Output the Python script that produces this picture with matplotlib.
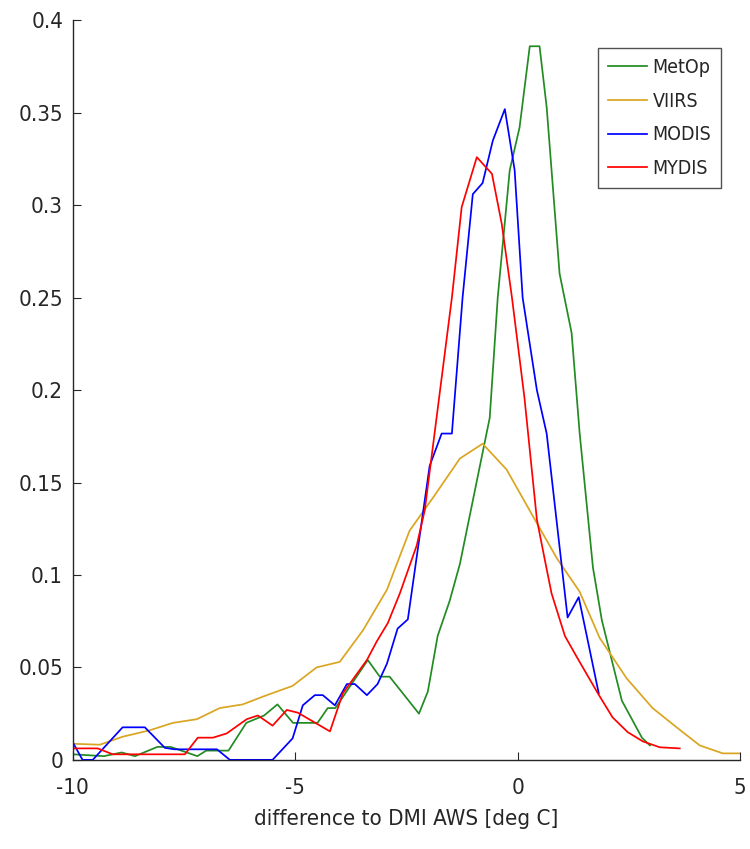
import matplotlib.pyplot as plt

# curves (x in deg C, y = relative frequency)
metop_x = [-10.0, -9.3, -8.9, -8.6, -8.1, -7.8, -7.2, -7.0, -6.5, -6.1, -5.7, -5.4,
           -5.05, -4.5, -4.27, -4.1, -3.37, -3.1, -2.88, -2.22, -2.02, -1.8, -1.53,
           -1.3, -0.63, -0.45, -0.18, 0.04, 0.27, 0.49, 0.65, 0.94, 1.21, 1.39, 1.69,
           1.89, 2.34, 2.79, 2.97]
metop_y = [0.003, 0.002, 0.004, 0.002, 0.007, 0.007, 0.002, 0.005, 0.005, 0.020, 0.024,
           0.030, 0.020, 0.020, 0.028, 0.028, 0.054, 0.045, 0.045, 0.025, 0.037, 0.067,
           0.086, 0.106, 0.185, 0.250, 0.319, 0.342, 0.386, 0.386, 0.353, 0.263, 0.231,
           0.177, 0.104, 0.0755, 0.032, 0.012, 0.0078]

viirs_x = [-10.0, -9.39, -8.88, -8.27, -7.75, -7.21, -6.70, -6.18, -5.64, -5.06, -4.52,
           -4.00, -3.48, -2.94, -2.43, -1.87, -1.30, -0.79, -0.25, 0.43, 0.88, 1.39, 1.84,
           2.45, 3.03, 3.57, 4.09, 4.61, 5.0]
viirs_y = [0.0087, 0.0082, 0.0125, 0.016, 0.020, 0.022, 0.028, 0.030, 0.035, 0.040, 0.050,
           0.053, 0.070, 0.092, 0.124, 0.143, 0.163, 0.171, 0.157, 0.128, 0.109, 0.091,
           0.066, 0.044, 0.028, 0.0176, 0.0078, 0.0035, 0.0035]

modis_x = [-10.0, -9.78, -9.55, -8.88, -8.38, -7.93, -7.71, -6.76, -6.47, -5.51, -5.06,
           -4.83, -4.56, -4.38, -4.11, -3.84, -3.66, -3.39, -3.15, -2.94, -2.70, -2.47,
           -1.98, -1.71, -1.48, -1.24, -1.01, -0.79, -0.56, -0.29, -0.07, 0.11, 0.43,
           0.65, 1.12, 1.37, 1.82]
modis_y = [0.0095, 0.0, 0.0, 0.0176, 0.0176, 0.0065, 0.0057, 0.0057, 0.0, 0.0, 0.0116,
           0.0295, 0.035, 0.035, 0.0295, 0.041, 0.041, 0.035, 0.041, 0.052, 0.071, 0.076,
           0.159, 0.1765, 0.1765, 0.250, 0.306, 0.312, 0.335, 0.352, 0.319, 0.250, 0.200,
           0.1765, 0.077, 0.088, 0.036]

mydis_x = [-10.0, -9.44, -9.10, -7.48, -7.19, -6.85, -6.54, -6.09, -5.84, -5.51, -5.19,
           -4.94, -4.22, -3.93, -3.39, -3.17, -2.92, -2.65, -2.27, -2.09, -1.48, -1.26,
           -0.92, -0.58, -0.36, -0.13, 0.15, 0.43, 0.61, 0.76, 1.06, 1.33, 1.80, 2.13,
           2.47, 2.81, 3.19, 3.64]
mydis_y = [0.0062, 0.0062, 0.003, 0.003, 0.012, 0.012, 0.0143, 0.022, 0.024, 0.0185,
           0.027, 0.0255, 0.0154, 0.036, 0.054, 0.064, 0.074, 0.090, 0.116, 0.135, 0.250,
           0.299, 0.326, 0.317, 0.290, 0.250, 0.196, 0.130, 0.108, 0.090, 0.067, 0.0555,
           0.036, 0.023, 0.015, 0.010, 0.0068, 0.0062]

x_ticks = [-10, -5, 0, 5]
y_ticks = [0, 0.05, 0.1, 0.15, 0.2, 0.25, 0.3, 0.35, 0.4]
y_labels = ['0', '0.05', '0.1', '0.15', '0.2', '0.25', '0.3', '0.35', '0.4']

plt.rcParams['font.family'] = ['DejaVu Sans']
plt.rcParams['font.stretch'] = 'condensed'
txt = '#262626'

fig = plt.figure(figsize=(7.5, 8.49), dpi=100)
ax = fig.add_axes([0.097, 0.105, 0.89, 0.871])

ax.plot(metop_x, metop_y, color='#228B22', lw=1.25, label='MetOp')
ax.plot(viirs_x, viirs_y, color='#DAA520', lw=1.25, label='VIIRS')
ax.plot(modis_x, modis_y, color='#0000FF', lw=1.25, label='MODIS')
ax.plot(mydis_x, mydis_y, color='#FF0000', lw=1.25, label='MYDIS')

ax.set_xlim(-10, 5)
ax.set_ylim(0, 0.4)
ax.set_xticks(x_ticks)
ax.set_xticklabels([str(v) for v in x_ticks])
ax.set_yticks(y_ticks)
ax.set_yticklabels(y_labels)
ax.spines['top'].set_visible(False)
ax.spines['right'].set_visible(False)
for s in ['left', 'bottom']:
    ax.spines[s].set_color(txt)
    ax.spines[s].set_linewidth(1.0)
ax.tick_params(axis='both', direction='in', length=6, color=txt, labelcolor=txt,
               labelsize=16)
ax.tick_params(axis='y', pad=7)
ax.tick_params(axis='x', pad=13)
ax.set_xlabel('difference to DMI AWS [deg C]', fontsize=16, color=txt, labelpad=8)

leg = ax.legend(loc='upper right', bbox_to_anchor=(0.971, 0.962), fontsize=14,
                frameon=True, fancybox=False, edgecolor=txt, handlelength=2.0,
                handletextpad=0.3, labelspacing=0.75, borderpad=0.5, borderaxespad=0)
leg.get_frame().set_linewidth(1.0)
for t in leg.get_texts():
    t.set_color(txt)

fig.savefig('out.png', dpi=100)
